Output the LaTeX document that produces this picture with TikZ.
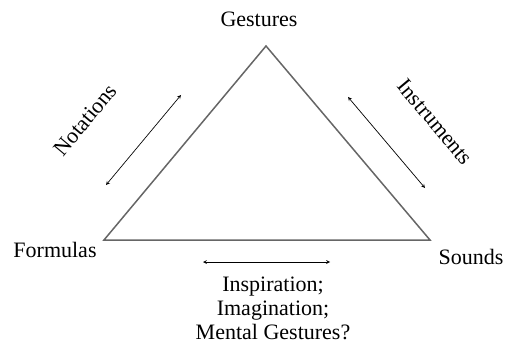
\documentclass[tikz,border=0pt]{standalone}
\usepackage{fontspec}
\setmainfont{Liberation Serif}
\usetikzlibrary{arrows,positioning}

\begin{document}
\begin{tikzpicture}[x=1pt,y=1pt,
  lbl/.style={inner sep=0pt,font=\fontsize{22}{24}\selectfont},
  link/.style={<->,>=stealth,line width=0.7pt},
  side/.style={draw=black!60,line width=1.5pt,line join=miter}]

\useasboundingbox (0,0) rectangle (505,343);

% corners of the triangle
\coordinate (g) at (266,297);
\coordinate (f) at (104,103);
\coordinate (s) at (430,103);
\draw [side] (g) -- (f) -- (s) -- cycle;

\node [lbl] (gest) at (259,324) {Gestures};
\node [lbl] (form) at (55,93) {Formulas};
\node [lbl] (snd) at (471,86) {Sounds};

% arrows beside the sides
\coordinate (n1) at (106,158);
\coordinate (n2) at (181,248);
\coordinate (i1) at (348,246);
\coordinate (i2) at (425,155);
\coordinate (m1) at (203,81);
\coordinate (m2) at (330,81);

\draw [link] (n1) -- (n2);
\draw [link] (i1) -- (i2);
\draw [link] (m1) -- (m2);

\node [lbl,rotate=50] (nota) at (85,223) {Notations};
\node [lbl,rotate=-50] (instr) at (435,221) {Instruments};
\node [lbl,align=center] (insp) at (273,35) {Inspiration;\\Imagination;\\Mental Gestures?};

\end{tikzpicture}
\end{document}
